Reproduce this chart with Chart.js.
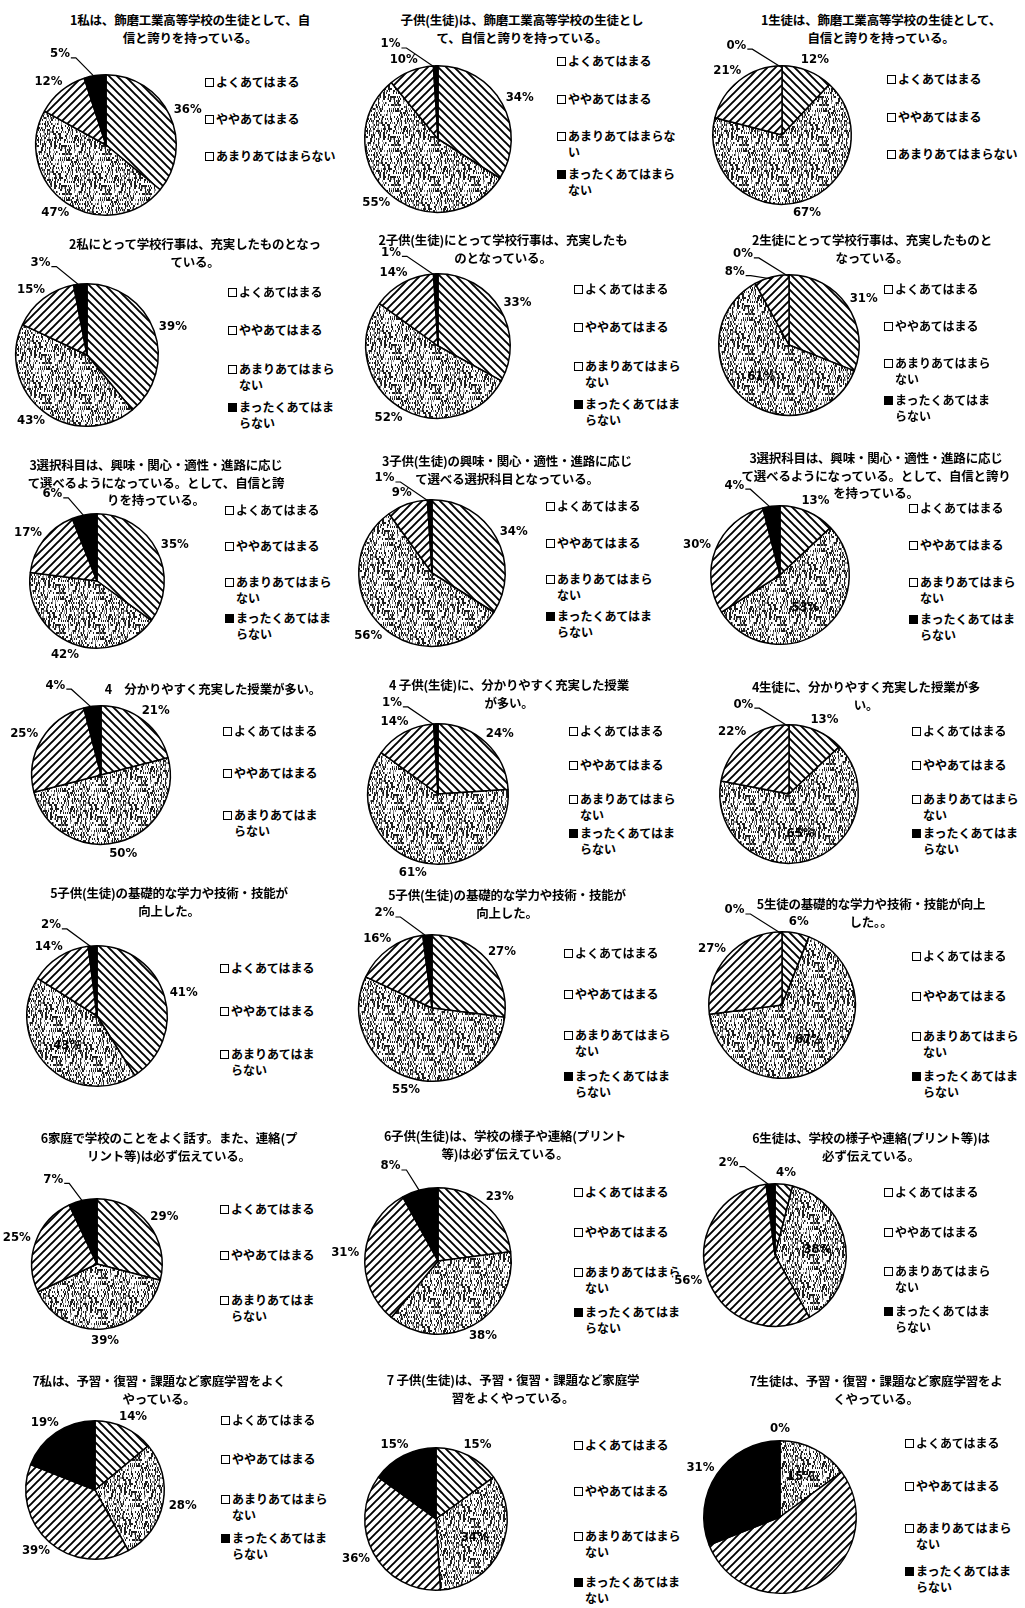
<!DOCTYPE html>
<html>
<head>
<meta charset="utf-8">
<script src="https://cdn.jsdelivr.net/npm/chart.js@4.4.1/dist/chart.umd.min.js"></script>
<style>
  body{margin:0;background:#fff;width:1025px;height:1608px;position:relative;overflow:hidden;font-family:"Noto Sans CJK JP","Noto Sans",sans-serif;color:#000}
  .t{position:absolute;font-weight:bold;font-size:12.5px;line-height:17.5px;text-align:center;white-space:nowrap;transform:translateX(-50%);letter-spacing:-0.2px}
  .lg{position:absolute;font-size:12px;font-weight:bold;line-height:16px;white-space:nowrap}
  .bx{display:inline-block;width:7px;height:7px;border:1.5px solid #000;background:#fff;vertical-align:top;margin-top:4px;margin-right:2px}
  .bx.k{background:#000}
  .tx{display:inline-block;vertical-align:top}
  canvas{position:absolute}
</style>
</head>
<body>
<script>
const categories = ["よくあてはまる","ややあてはまる","あまりあてはまらない","まったくあてはまらない"];

// values per question: [私/保護者/生徒], order = categories
const q1Values = [[36,47,12,5],[34,55,10,1],[12,67,21,0]];
const q2Values = [[39,43,15,3],[33,52,14,1],[31,61,8,0]];
const q3Values = [[35,42,17,6],[34,56,9,1],[13,53,30,4]];
const q4Values = [[21,50,25,4],[24,61,14,1],[13,65,22,0]];
const q5Values = [[41,43,14,2],[27,55,16,2],[6,67,27,0]];
const q6Values = [[29,39,25,7],[23,38,31,8],[4,38,56,2]];
const q7Values = [[14,28,39,19],[15,34,36,15],[0,15,54,31]];

const titles = [
  ["1私は、飾磨工業高等学校の生徒として、自","信と誇りを持っている。"],
  ["子供(生徒)は、飾磨工業高等学校の生徒とし","て、自信と誇りを持っている。"],
  ["1生徒は、飾磨工業高等学校の生徒として、","自信と誇りを持っている。"],
  ["2私にとって学校行事は、充実したものとなっ","ている。"],
  ["2子供(生徒)にとって学校行事は、充実したも","のとなっている。"],
  ["2生徒にとって学校行事は、充実したものと","なっている。"],
  ["3選択科目は、興味・関心・適性・進路に応じ","て選べるようになっている。として、自信と誇","りを持っている。"],
  ["3子供(生徒)の興味・関心・適性・進路に応じ","て選べる選択科目となっている。"],
  ["3選択科目は、興味・関心・適性・進路に応じ","て選べるようになっている。として、自信と誇り","を持っている。"],
  ["4　分かりやすく充実した授業が多い。"],
  ["4 子供(生徒)に、分かりやすく充実した授業","が多い。"],
  ["4生徒に、分かりやすく充実した授業が多","い。"],
  ["5子供(生徒)の基礎的な学力や技術・技能が","向上した。"],
  ["5子供(生徒)の基礎的な学力や技術・技能が","向上した。"],
  ["5生徒の基礎的な学力や技術・技能が向上","した。。"],
  ["6家庭で学校のことをよく話す。また、連絡(プ","リント等)は必ず伝えている。"],
  ["6子供(生徒)は、学校の様子や連絡(プリント","等)は必ず伝えている。"],
  ["6生徒は、学校の様子や連絡(プリント等)は","必ず伝えている。"],
  ["7私は、予習・復習・課題など家庭学習をよく","やっている。"],
  ["7 子供(生徒)は、予習・復習・課題など家庭学","習をよくやっている。"],
  ["7生徒は、予習・復習・課題など家庭学習をよ","くやっている。"]
];

const legendFull3 = ["よくあてはまる","ややあてはまる","あまりあてはまらない"];
const legendWrap4 = ["よくあてはまる","ややあてはまる","あまりあてはまらな\nい","まったくあてはまら\nない"];
const legendStd4 = ["よくあてはまる","ややあてはまる","あまりあてはまら\nない","まったくあてはま\nらない"];
const legendShort3 = ["よくあてはまる","ややあてはまる","あまりあてはま\nらない"];
const legendQ7 = ["よくあてはまる","ややあてはまる","あまりあてはまら\nない","まったくあてはま\nない"];
const legends = [
  legendFull3, legendWrap4, legendFull3,
  legendStd4, legendStd4, legendStd4,
  legendStd4, legendStd4, legendStd4,
  legendShort3, legendStd4, legendStd4,
  legendShort3, legendStd4, legendStd4,
  legendShort3, legendStd4, legendStd4,
  legendStd4, legendQ7, legendStd4
];

const allValues = [].concat(q1Values,q2Values,q3Values,q4Values,q5Values,q6Values,q7Values);

// layout of each cell: pie centre/radius, title centre, legend start/gap
const cells = [
  {cx:106,cy:145,r:71, tx:190,ty:20,  lx:205,ly:82,  lg:37},
  {cx:438,cy:139,r:74, tx:522,ty:20,  lx:557,ly:61,  lg:37.7},
  {cx:782,cy:135,r:70, tx:881,ty:20,  lx:887,ly:79,  lg:37.5},
  {cx:87, cy:355,r:72, tx:195,ty:244, lx:228,ly:292, lg:38.3},
  {cx:438,cy:346,r:73, tx:503,ty:240, lx:574,ly:289, lg:38.3},
  {cx:789,cy:345,r:71, tx:872,ty:240, lx:884,ly:289, lg:37, inside:1},
  {cx:97, cy:581,r:68, tx:156,ty:465, lx:225,ly:510, lg:36},
  {cx:432,cy:573,r:74, tx:507,ty:461, lx:546,ly:506, lg:36.7},
  {cx:780,cy:575,r:70, tx:876,ty:458, lx:909,ly:508, lg:37, inside:1},
  {cx:101,cy:775,r:70, tx:213,ty:689, lx:223,ly:731, lg:42},
  {cx:438,cy:794,r:71, tx:509,ty:685, lx:569,ly:731, lg:34},
  {cx:789,cy:794,r:70, tx:866,ty:687, lx:912,ly:731, lg:34, inside:1},
  {cx:97, cy:1016,r:71,tx:169,ty:893, lx:220,ly:968, lg:43, inside:1},
  {cx:432,cy:1008,r:74,tx:507,ty:895, lx:564,ly:953, lg:41},
  {cx:782,cy:1005,r:74,tx:871,ty:904, lx:912,ly:956, lg:40, inside:1},
  {cx:97, cy:1264,r:66,tx:169,ty:1138,lx:220,ly:1209,lg:45.5},
  {cx:438,cy:1261,r:74,tx:505,ty:1136,lx:574,ly:1192,lg:40},
  {cx:775,cy:1255,r:72,tx:871,ty:1138,lx:884,ly:1192,lg:39.5, inside:1},
  {cx:95, cy:1490,r:70,tx:159,ty:1381,lx:221,ly:1420,lg:39.3},
  {cx:436,cy:1519,r:72,tx:513,ty:1380,lx:574,ly:1445,lg:45.7, inside:1},
  {cx:780,cy:1517,r:77,tx:876,ty:1381,lx:905,ly:1443,lg:42.7, inside:1, hide:2}
];

function hatch(dir){
  const s = 8, c = document.createElement("canvas");
  c.width = c.height = s;
  const g = c.getContext("2d");
  g.fillStyle = "#fff"; g.fillRect(0,0,s,s);
  g.strokeStyle = "#000"; g.lineWidth = 1.9; g.beginPath();
  if (dir > 0) {
    g.moveTo(-1,s+1); g.lineTo(s+1,-1);
    g.moveTo(-2,2); g.lineTo(2,-2);
    g.moveTo(s-2,s+2); g.lineTo(s+2,s-2);
  } else {
    g.moveTo(-1,-1); g.lineTo(s+1,s+1);
    g.moveTo(s-2,-2); g.lineTo(s+2,2);
    g.moveTo(-2,s-2); g.lineTo(2,s+2);
  }
  g.stroke();
  return c;
}
// scanned dot texture: fixed integer hash per pixel, short vertical specks
function speck(x, y) {
  let h = (x * 374761393 + y * 668265263) | 0;
  h = Math.imul(h ^ (h >>> 13), 1274126177);
  return ((h ^ (h >>> 16)) >>> 0) % 100;
}
function stipple(){
  const s = 40, c = document.createElement("canvas");
  c.width = c.height = s;
  const g = c.getContext("2d");
  const img = g.createImageData(s,s);
  for (let y = 0; y < s; y++) for (let x = 0; x < s; x++) {
    const v = speck(x, y >> 1);
    const k = (y*s + x) * 4;
    const col = v < 30 ? 30 : (v < 42 ? 140 : 255);
    img.data[k] = img.data[k+1] = img.data[k+2] = col; img.data[k+3] = 255;
  }
  g.putImageData(img,0,0);
  return c;
}
const tiles = [hatch(-1), stipple(), hatch(1)];

const pctPlugin = {
  id: "pct",
  afterDatasetsDraw(chart, args, opts) {
    const ctx = chart.ctx;
    const meta = chart.getDatasetMeta(0);
    const vals = chart.data.datasets[0].data;
    const n = vals.length;
    ctx.save();
    ctx.font = 'bold 13px "DejaVu Sans Condensed","DejaVu Sans",sans-serif';
    ctx.textAlign = "center"; ctx.textBaseline = "middle";
    meta.data.forEach((arc, i) => {
      if (i === opts.hide) return;
      const p = arc.getProps(["x","y","startAngle","endAngle","outerRadius"], true);
      const r = p.outerRadius;
      const a = (p.startAngle + p.endAngle) / 2;
      const deg = (((a + Math.PI/2) * 180 / Math.PI) % 360 + 360) % 360;
      const txt = vals[i] + "%";
      const w = ctx.measureText(txt).width, h = 12;
      let x, y, lead = false;
      if (i === opts.inside) {
        x = p.x + Math.cos(a) * r * 0.6;
        y = p.y + Math.sin(a) * r * 0.6;
      } else if (vals[i] < 9 && (i === n - 1 || deg > 300)) {
        lead = true;
        const la = (i === n - 1 ? 340 : deg - 15) * Math.PI / 180 - Math.PI/2;
        const d = i === n - 1 ? r * 1.38 : r * 1.2;
        x = p.x + Math.cos(la) * d - w/2 - 3;
        y = p.y + Math.sin(la) * d;
      } else {
        x = p.x + Math.cos(a) * (r + 6) + Math.cos(a) * w / 2;
        y = p.y + Math.sin(a) * (r + 6) + Math.sin(a) * h / 2;
      }
      if (i !== opts.inside) {
        ctx.fillStyle = "#fff";
        ctx.fillRect(x - w/2 - 1, y - h/2, w + 2, h);
      }
      if (lead) {
        ctx.strokeStyle = "#000"; ctx.lineWidth = 1.2;
        ctx.beginPath();
        ctx.moveTo(x + w/2 + 1, y + 4);
        ctx.lineTo(x + w/2 + 6, y + 4);
        ctx.lineTo(p.x + Math.cos(a) * r * 0.97, p.y + Math.sin(a) * r * 0.97);
        ctx.stroke();
      }
      ctx.fillStyle = "#000";
      ctx.fillText(txt, x, y);
    });
    ctx.restore();
  }
};

const P = 75;
cells.forEach((L, k) => {
  const t = document.createElement("div");
  t.className = "t";
  t.style.left = L.tx + "px";
  t.style.top = (L.ty - 9) + "px";
  t.innerHTML = titles[k].join("<br>");
  document.body.appendChild(t);

  legends[k].forEach((s, i) => {
    const d = document.createElement("div");
    d.className = "lg";
    d.style.left = L.lx + "px";
    d.style.top = (L.ly + i * L.lg - 8) + "px";
    d.innerHTML = '<span class="bx' + (i === 3 ? ' k' : '') + '"></span><span class="tx">' + s.replace("\n","<br>") + "</span>";
    document.body.appendChild(d);
  });

  const size = 2 * (L.r + P);
  const cv = document.createElement("canvas");
  cv.width = size; cv.height = size;
  cv.style.left = (L.cx - size/2) + "px";
  cv.style.top = (L.cy - size/2) + "px";
  document.body.appendChild(cv);
  const g = cv.getContext("2d");
  const fills = tiles.map(c => g.createPattern(c, "repeat")).concat(["#000"]);

  new Chart(cv, {
    type: "pie",
    data: {
      labels: categories,
      datasets: [{ data: allValues[k], backgroundColor: fills, borderColor: "#000", borderWidth: 1.5 }]
    },
    options: {
      responsive: false,
      animation: false,
      devicePixelRatio: 1,
      layout: { padding: P },
      plugins: {
        legend: { display: false },
        tooltip: { enabled: false },
        pct: { inside: L.inside, hide: L.hide }
      }
    },
    plugins: [pctPlugin]
  });
});
</script>
</body>
</html>
